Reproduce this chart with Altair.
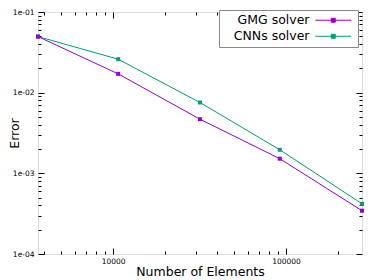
import altair as alt
import pandas as pd

elements = [3680, 10700, 31800, 92000, 275000]
gmg_error = [0.0496, 0.0171, 0.00469, 0.00152, 0.000344]
cnn_error = [0.0496, 0.0260, 0.00755, 0.00196, 0.000419]
series = ["GMG solver", "CNNs solver"]
colors = ["#9400d3", "#009e73"]

x_ticks = [4000, 5000, 6000, 7000, 8000, 9000, 10000,
           20000, 30000, 40000, 50000, 60000, 70000, 80000, 90000, 100000, 200000]
y_ticks = [0.0001, 0.0002, 0.0003, 0.0004, 0.0005, 0.0006, 0.0007, 0.0008, 0.0009,
           0.001, 0.002, 0.003, 0.004, 0.005, 0.006, 0.007, 0.008, 0.009,
           0.01, 0.02, 0.03, 0.04, 0.05, 0.06, 0.07, 0.08, 0.09, 0.1]

rows = []
for name, vals in [(series[1], cnn_error), (series[0], gmg_error)]:
    for e, v in zip(elements, vals):
        rows.append({"elements": e, "error": v, "series": name})
df = pd.DataFrame(rows)

W, H = 324, 242
FONT = "DejaVu Sans"
is_major = "abs(log(datum.value)/LN10 - round(log(datum.value)/LN10)) < 0.000001"
tick_cond = {"condition": {"test": is_major, "value": 6}, "value": 3}

xscale = alt.Scale(type="log", domain=[min(elements), max(elements)], nice=False, zero=False)
yscale = alt.Scale(type="log", domain=[0.0001, 0.1], nice=False, zero=False)

color = alt.Color("series:N", scale=alt.Scale(domain=series, range=colors),
                  legend=alt.Legend(
                      orient="none", legendX=181, legendY=-2, title=None,
                      symbolType="M-3.6,0H3.6M-0.4,-0.4H0.4V0.4H-0.4Z",
                      symbolSize=100, symbolStrokeWidth=1,
                      labelFont=FONT, labelFontSize=12.5, labelColor="black",
                      labelAlign="right", labelOffset={"expr": "-30"}, symbolOffset=104,
                      fillColor="white", strokeColor="#888888", padding=4,
                      rowPadding=3))

base = alt.Chart(df)

main_x = alt.X("elements:Q", scale=xscale,
               axis=alt.Axis(values=x_ticks, title="Number of Elements",
                             titleFont=FONT, titleFontSize=12.5, titleFontWeight="normal",
                             titleColor="black", titlePadding=1,
                             labelFont=FONT, labelFontSize=7.5, labelColor="black",
                             labelExpr="(" + is_major + ") ? format(datum.value, 'd') : ''",
                             labelPadding=3,
                             tickSize=0, domain=False, grid=False, labelFlush=False))
main_y = alt.Y("error:Q", scale=yscale,
               axis=alt.Axis(values=y_ticks, title="Error",
                             titleFont=FONT, titleFontSize=12.5, titleFontWeight="normal",
                             titleColor="black", titleX=-24, titleBaseline="middle",
                             labelFont=FONT, labelFontSize=7.5, labelColor="black",
                             labelExpr="(" + is_major + ") ? replace(format(datum.value, '.0e'), 'e-', 'e-0') : ''",
                             labelPadding=4,
                             tickSize=0, domain=False, grid=False, labelFlush=False))

lines = base.mark_line(strokeWidth=1).encode(x=main_x, y=main_y, color=color)
pts = base.mark_square(size=16, filled=True, opacity=1).encode(
    x=alt.X("elements:Q", scale=xscale, axis=None),
    y=alt.Y("error:Q", scale=yscale, axis=None),
    color=alt.Color("series:N", scale=alt.Scale(domain=series, range=colors), legend=None))

def tick_axis(orient, offset):
    return alt.Axis(values=x_ticks if orient in ("top", "bottom") else y_ticks,
                    orient=orient, offset=offset, labels=False, title=None,
                    domain=False, grid=False, tickColor="black", tickWidth=1,
                    tickSize=tick_cond)

ticks_b = base.mark_point(opacity=0).encode(
    x=alt.X("elements:Q", scale=xscale, axis=tick_axis("top", -H)),
    y=alt.Y("error:Q", scale=yscale, axis=tick_axis("right", -W)))
ticks_c = base.mark_point(opacity=0).encode(
    x=alt.X("elements:Q", scale=xscale, axis=tick_axis("bottom", -H)),
    y=alt.Y("error:Q", scale=yscale, axis=tick_axis("left", -W)))

chart = alt.layer(ticks_b, ticks_c, lines, pts).resolve_axis(
    x="independent", y="independent"
).properties(
    width=W, height=H, autosize=alt.AutoSizeParams(type="none"),
    padding={"left": 30, "top": 4, "right": 4, "bottom": 26}
).configure_view(stroke="black", strokeWidth=1).configure(background="white")

chart.save("out.html", embed_options={"renderer": "svg", "actions": False})
